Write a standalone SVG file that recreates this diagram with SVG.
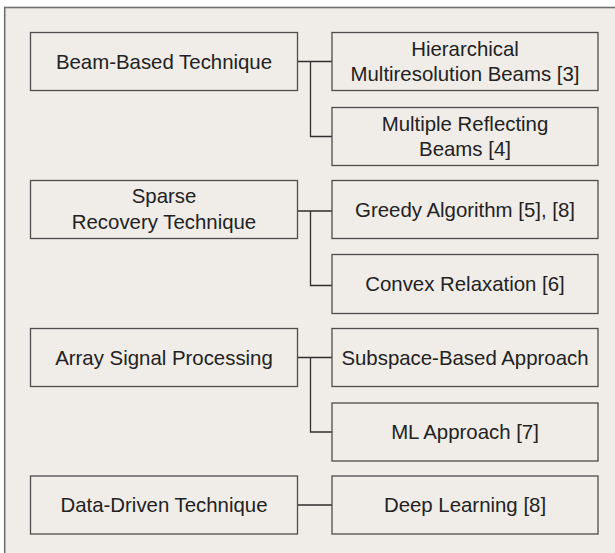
<svg xmlns="http://www.w3.org/2000/svg" width="615" height="553" viewBox="0 0 615 553">
<style>
.box{fill:#f0ece8;stroke:#4d4d4d;stroke-width:1.3}
.t{font-family:"Liberation Sans",Arial,sans-serif;font-size:20.4px;fill:#222;text-anchor:middle}
.c{fill:none;stroke:#2e2e2e;stroke-width:1.3}
</style>
<rect x="0" y="0" width="615" height="553" fill="#ffffff"/>
<rect x="4.7" y="7.5" width="700" height="700" fill="#f0ece8" stroke="#707070" stroke-width="1.6"/>
<g id="connectors">
<path class="c" d="M297.5 61.5H332M310.5 61.5V136.5H332"/>
<path class="c" d="M297.5 211H332M310.5 211V285.5H332"/>
<path class="c" d="M297.5 357.5H332M310.5 357.5V432H332"/>
<path class="c" d="M297.5 505H332"/>
</g>
<g id="beam"><rect class="box" x="30.5" y="32.5" width="267" height="58"/><text class="t" x="164" y="68.5">Beam-Based Technique</text></g>
<g id="hier"><rect class="box" x="332" y="32.5" width="266" height="58"/><text class="t" x="465" y="56">Hierarchical</text><text class="t" x="465" y="80.7">Multiresolution Beams [3]</text></g>
<g id="multi"><rect class="box" x="332" y="107.5" width="266" height="58"/><text class="t" x="465" y="130.5">Multiple Reflecting</text><text class="t" x="465" y="155.5">Beams [4]</text></g>
<g id="sparse"><rect class="box" x="30.5" y="180.5" width="267" height="58"/><text class="t" x="164" y="202.5">Sparse</text><text class="t" x="164" y="228.5">Recovery Technique</text></g>
<g id="greedy"><rect class="box" x="332" y="180.5" width="266" height="58"/><text class="t" x="465" y="216.5">Greedy Algorithm [5], [8]</text></g>
<g id="convex"><rect class="box" x="332" y="254.5" width="266" height="59"/><text class="t" x="465" y="291">Convex Relaxation [6]</text></g>
<g id="array"><rect class="box" x="30.5" y="328.5" width="267" height="58"/><text class="t" x="164" y="364.5">Array Signal Processing</text></g>
<g id="subspace"><rect class="box" x="332" y="328.5" width="266" height="58"/><text class="t" x="465" y="364.5">Subspace-Based Approach</text></g>
<g id="ml"><rect class="box" x="332" y="403" width="266" height="58"/><text class="t" x="465" y="439">ML Approach [7]</text></g>
<g id="data"><rect class="box" x="30.5" y="476" width="267" height="58"/><text class="t" x="164" y="512">Data-Driven Technique</text></g>
<g id="deep"><rect class="box" x="332" y="476" width="266" height="58"/><text class="t" x="465" y="512">Deep Learning [8]</text></g>
</svg>
